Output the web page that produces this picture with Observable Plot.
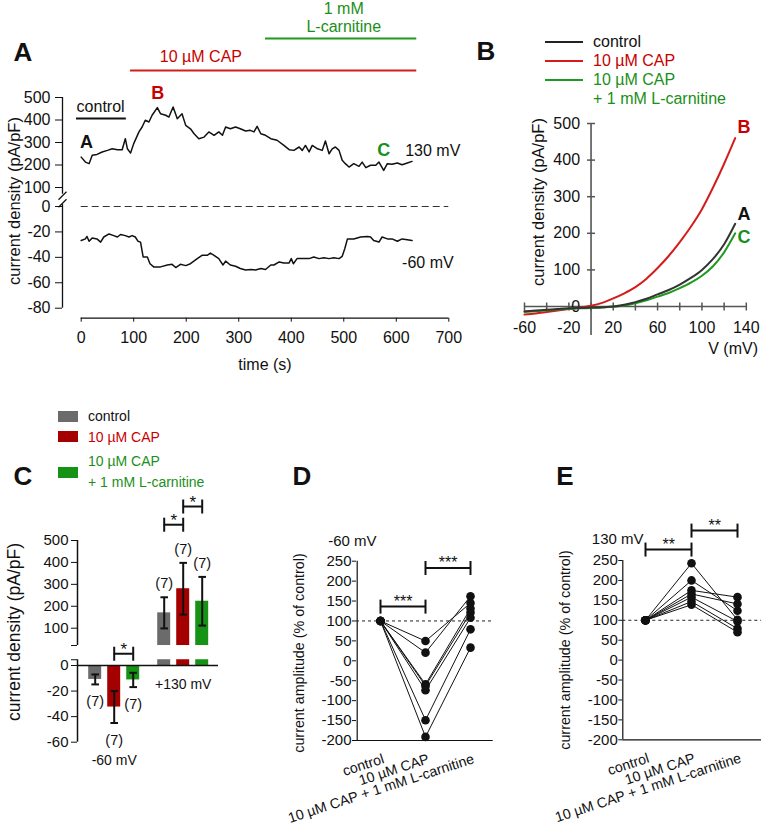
<!DOCTYPE html>
<html>
<head>
<meta charset="utf-8">
<script src="https://cdn.jsdelivr.net/npm/d3@7"></script>
<script src="https://cdn.jsdelivr.net/npm/@observablehq/plot@0.6"></script>
<style>
  html, body { margin: 0; padding: 0; background: #fff; }
  #fig { position: relative; width: 761px; height: 831px; overflow: hidden; background: #fff;
         font-family: "Liberation Sans", Arial, Helvetica, sans-serif; color: #111; }
  #fig svg { position: absolute; left: 0; top: 0; }
  .lbl { position: absolute; white-space: nowrap; line-height: 1; }
  .sw { position: absolute; }
</style>
</head>
<body>
<div id="fig"></div>
<script>
// ---------------- DATA ----------------
// Panel A: time course of current density at +130 mV and -60 mV
const timeA130 = [0,8,15,21,30,40,50,59,69,78,84,88,94,100,110,116,122,129,135,145,151,161,167,175,183,192,199,208,215,224,234,243,253,262,269,275,284,294,303,313,322,329,335,342,351,361,373,386,396,405,415,421,427,434,440,450,459,465,472,478,484,491,497,503,510,519,529,535,542,551,561,567,576,583,592,602,611,621,630];
const currA130 = [235,213,206,243,247,258,265,272,268,268,317,272,253,295,347,369,399,391,421,455,428,421,413,458,406,428,376,361,339,317,324,347,332,347,332,369,361,369,361,351,354,347,372,339,332,317,310,287,268,265,280,265,287,258,287,272,265,307,250,272,280,265,221,206,191,206,194,213,188,199,199,213,176,206,203,209,201,209,216];
const timeA60 = [0,8,11,15,21,30,37,43,53,62,69,75,84,91,97,103,108,113,118,126,131,138,151,164,173,180,189,199,208,221,230,240,246,253,262,270,275,284,294,303,313,323,332,342,351,361,367,377,386,396,400,404,411,424,434,443,453,462,472,481,491,497,502,507,513,519,532,545,551,557,567,573,583,592,602,611,621,630];
const currA60 = [-26.8,-25.5,-23.6,-27.3,-24.7,-25.5,-28,-24,-21.6,-22.9,-24,-22,-22.9,-24,-22.9,-24,-27.3,-28,-39.7,-39.7,-45,-47.5,-47.5,-46,-45.5,-48,-45.5,-46.5,-45,-41,-38.4,-38.4,-36.6,-38.4,-41,-46,-43,-46,-47,-48.8,-50,-49.6,-50,-48.8,-49.6,-46,-46,-43.6,-44.4,-44.4,-41,-45,-41,-41,-41,-39.7,-41,-40.3,-41,-40.3,-41,-39.2,-33,-25.5,-25.5,-25.5,-24,-23.6,-24,-26.8,-28,-24,-25.5,-25.5,-27.3,-25.5,-26.2,-26.8];
const xTicksA = [0,100,200,300,400,500,600,700];
const yTicksAUpper = [100,200,300,400,500];
const yTicksALower = [-80,-60,-40,-20,0];
const periodsA = [
  {start: -9, end: 86, level: 407, label: "control", labelT: 37, labelV: 460, kind: "ctrl"},
  {start: 94, end: 639, level: 620, label: "10 µM CAP", labelT: 228, labelV: 682, kind: "red"},
  {start: 351, end: 639, level: 762, label: "1 mM", labelT: 500, labelV: 896, kind: "green"}
];
const extraLabelA = [{label: "L-carnitine", t: 500, v: 815}];
const pointLabelsA = [
  {label: "A", t: 10, v: 300, kind: "ctrl"},
  {label: "B", t: 146, v: 518, kind: "red"},
  {label: "C", t: 576, v: 264, kind: "green"}
];

// Panel B: I-V relations
const voltB = [-60,-50,-40,-30,-20,-10,0,10,20,30,40,50,60,70,80,90,100,110,120,130];
const ctrlB = [-13,-11,-9,-7,-5,-4,-3,-2,0,5,12,21,33,45,60,78,100,130,170,226];
const capB  = [-22,-19,-15,-11,-7,-3,2,10,22,36,53,76,105,138,176,218,266,325,390,460];
const lcB   = [-15,-13,-10,-8,-6,-5,-4,-3,-1,3,9,17,27,37,50,65,84,110,148,200];
const yTicksB = [0,100,200,300,400,500];
const xTicksB = [-60,-40,-20,0,20,40,60,80,100,120,140];
const xLabelsB = [-60,-20,20,60,100,140];
const endLabelsB = [{label: "B", v: 132, i: 489, kind: "red"}, {label: "A", v: 132, i: 251, kind: "ctrl"}, {label: "C", v: 132, i: 189, kind: "green"}];

// Panel C: mean current density ± SEM
const conds = ["control", "10 µM CAP", "10 µM CAP + 1 mM L-carnitine"];
const groupsC = ["-60 mV", "+130 mV"];
const meanC60 = [-10.9, -32.5, -11.3];
const semC60 = [3.9, 12.5, 5.6];
const meanC130 = [170, 280, 223];
const semC130 = [71, 118, 111];
const nC = [7, 7, 7];
const yTicksCLower = [-60,-40,-20,0];
const yTicksCUpper = [100,200,300,400,500];
const breakLoC = 4.5, breakHiC = 21;
const bracketsCLower = [{g: 0, a: 1, b: 2, y: 9.2, label: "*"}];
const bracketsCUpper = [{g: 1, a: 0, b: 1, y: 572, label: "*"}, {g: 1, a: 1, b: 2, y: 655, label: "*"}];

// Panels D & E: normalized current amplitude (% of control), 7 cells
const ctrlDE = [100,100,100,100,100,100,100];
const capD = [49.6, 20.5, -59, -63, -74, -149, -191];
const lcD  = [145, 162, 131, 121, 108, 79, 33];
const capE = [243, 200, 175, 166, 158, 147, 139];
const lcE  = [101, 124, 158, 141, 97, 79, 70];
const yTicksDE = [-200,-150,-100,-50,0,50,100,150,200,250];
const bracketsD = [{a: 0, b: 1, y: 136, label: "***"}, {a: 1, b: 2, y: 233, label: "***"}];
const bracketsE = [{a: 0, b: 1, y: 277.5, label: "**"}, {a: 1, b: 2, y: 325, label: "**"}];

// ---------------- STYLE ----------------
const fig = document.getElementById("fig");
const W = 761, H = 831;
const FONT = '"Liberation Sans", Arial, Helvetica, sans-serif';
const INK = "#111111";
const COL = {ctrl: "#111111", red: "#c80000", green: "#1a8f1a"};
const LINE = {ctrl: "#222222", red: "#d41c1c", green: "#1f9a1f"};
const BAR = ["#6b6b6b", "#a50000", "#169216"];
const style = (size) => ({background: "transparent", overflow: "visible", fontFamily: FONT, fontSize: size + "px", color: INK});

const hline = {draw(ctx, s) { const r = Math.sqrt(s / Math.PI); ctx.moveTo(-r, 0); ctx.lineTo(r, 0); }};
const vline = {draw(ctx, s) { const r = Math.sqrt(s / Math.PI); ctx.moveTo(0, -r); ctx.lineTo(0, r); }};
const slash = {draw(ctx, s) { const r = Math.sqrt(s / Math.PI); ctx.moveTo(-r * 0.8, r * 0.8); ctx.lineTo(r * 0.8, -r * 0.8); }};

function mount(svg) { fig.appendChild(svg); }
function label(text, x, y, o = {}) {
  const el = document.createElement("div");
  el.className = "lbl";
  el.textContent = text;
  el.style.left = x + "px";
  el.style.top = y + "px";
  el.style.fontSize = (o.size || 16) + "px";
  if (o.color) el.style.color = o.color;
  if (o.bold) el.style.fontWeight = "bold";
  const ax = o.anchor === "start" ? "0" : o.anchor === "end" ? "-100%" : "-50%";
  el.style.transform = `translate(${ax}, -50%)` + (o.rotate ? ` rotate(${o.rotate}deg)` : "");
  fig.appendChild(el);
}
function swatch(x, y, w, h, color) {
  const el = document.createElement("div");
  el.className = "sw";
  Object.assign(el.style, {left: x + "px", top: y + "px", width: w + "px", height: h + "px", background: color});
  fig.appendChild(el);
}

// ---------------- PANEL A (broken y axis: two stacked sections) ----------------
const A130 = timeA130.map((t, i) => ({t, v: currA130[i]}));
const A60 = timeA60.map((t, i) => ({t, v: currA60[i]}));
const xA = {domain: [0, 700], range: [80.7, 448.3], label: null};
// upper section, +130 mV
mount(Plot.plot({
  width: W, height: H, marginTop: 0, marginRight: W - 448.3, marginBottom: H - 190, marginLeft: 62,
  style: style(16),
  x: {...xA, axis: null},
  y: {domain: [100, 500], range: [187, 97], label: null},
  marks: [
    Plot.axisY({ticks: yTicksAUpper, tickSize: 7, tickPadding: 5, tickFormat: String, label: null}),
    Plot.ruleX([[70, 500]], {x: 0, dx: -18.7, y1: d => d[0], y2: d => d[1], stroke: INK, strokeWidth: 1.3}),
    Plot.dot([63], {x: 0, dx: -18.7, y: d => d, symbol: slash, r: 5, stroke: INK, fill: "none", strokeWidth: 1.3}),
    Plot.line(A130, {x: "t", y: "v", stroke: INK, strokeWidth: 1.5}),
    ...periodsA.map(p => Plot.ruleY([p], {x1: "start", x2: "end", y: "level", stroke: p.kind === "ctrl" ? INK : LINE[p.kind], strokeWidth: 2})),
    ...periodsA.map(p => Plot.text([p], {x: "labelT", y: "labelV", text: "label", fill: COL[p.kind], fontSize: 16})),
    Plot.text(extraLabelA, {x: "t", y: "v", text: "label", fill: COL.green, fontSize: 16}),
    ...pointLabelsA.map(p => Plot.text([p], {x: "t", y: "v", text: "label", fill: COL[p.kind], fontSize: 18, fontWeight: "bold"})),
    Plot.text(["130 mV"], {x: 617, y: 264, text: d => d, textAnchor: "start", fill: INK, fontSize: 16})
  ]
}));
// lower section, -60 mV, with time axis
mount(Plot.plot({
  width: W, height: H, marginTop: 0, marginRight: W - 448.3, marginBottom: H - 317.7, marginLeft: 62,
  style: style(16),
  x: xA,
  y: {domain: [-80, 0], range: [307.7, 206], label: null},
  marks: [
    Plot.axisY({ticks: yTicksALower, tickSize: 7, tickPadding: 5, tickFormat: String, label: null}),
    Plot.axisX({ticks: xTicksA, tickSize: 4, tickPadding: 9, tickFormat: String, label: null}),
    Plot.ruleX([[-80, 1.5]], {x: 0, dx: -18.7, y1: d => d[0], y2: d => d[1], stroke: INK, strokeWidth: 1.3}),
    Plot.dot([2.5], {x: 0, dx: -18.7, y: d => d, symbol: slash, r: 5, stroke: INK, fill: "none", strokeWidth: 1.3}),
    Plot.ruleY([-80], {x1: 0, x2: 700, dy: 10, stroke: INK, strokeWidth: 1.3}),
    Plot.ruleY([0], {x1: 0, x2: 700, stroke: "#333", strokeDasharray: "7,4", strokeWidth: 1.2}),
    Plot.line(A60, {x: "t", y: "v", stroke: INK, strokeWidth: 1.5}),
    Plot.text(["-60 mV"], {x: 611, y: -44, text: d => d, textAnchor: "start", fill: INK, fontSize: 16})
  ]
}));

// ---------------- PANEL B ----------------
const series = (v, arr) => v.map((x, i) => ({v: x, i: arr[i]}));
mount(Plot.plot({
  width: W, height: H, marginTop: 123, marginBottom: H - 335, marginLeft: 524, marginRight: W - 745.8,
  style: style(16),
  x: {domain: [-60, 140], range: [524, 745.8], axis: null},
  y: {domain: [0, 500], range: [306, 123], axis: null},
  marks: [
    Plot.ruleX([0], {stroke: "#555", strokeWidth: 1.6}),
    Plot.ruleY([0], {stroke: "#555", strokeWidth: 1.6}),
    Plot.dot(yTicksB, {x: 0, y: d => d, symbol: hline, r: 4, stroke: "#555", fill: "none", strokeWidth: 1.5}),
    Plot.dot(xTicksB, {x: d => d, y: 0, symbol: vline, r: 4, stroke: "#555", fill: "none", strokeWidth: 1.5}),
    Plot.text(yTicksB, {x: 0, y: d => d, dx: -11, textAnchor: "end", text: d => String(d), fill: INK}),
    Plot.text(xLabelsB, {x: d => d, y: 0, dy: 21, text: d => String(d), fill: INK}),
    Plot.line(series(voltB, capB), {x: "v", y: "i", stroke: LINE.red, strokeWidth: 2, curve: "monotone-x"}),
    Plot.line(series(voltB, lcB), {x: "v", y: "i", stroke: LINE.green, strokeWidth: 2, curve: "monotone-x"}),
    Plot.line(series(voltB, ctrlB), {x: "v", y: "i", stroke: "#333", strokeWidth: 2, curve: "monotone-x"}),
    ...endLabelsB.map(p => Plot.text([p], {x: "v", y: "i", text: "label", textAnchor: "start", fill: COL[p.kind], fontSize: 18, fontWeight: "bold"}))
  ]
}));

// ---------------- PANEL C (broken y axis: two stacked sections) ----------------
const grpStep = 0.2754, halfBar = 0.094;
const rowsC = groupsC.flatMap((g, gi) => conds.map((c, si) => ({
  g, gi, c, si,
  mean: gi === 0 ? meanC60[si] : meanC130[si],
  sem: gi === 0 ? semC60[si] : semC130[si],
  n: nC[si]
})));
const xC = d => d.gi + (d.si - 1) * grpStep;
const bx = (g, s) => g + (s - 1) * grpStep;
const rowsC60 = rowsC.filter(d => d.gi === 0);
const rowsC130 = rowsC.filter(d => d.gi === 1);
const xCscale = {domain: [0, 1], range: [113.7, 182.7], axis: null, label: null};
const caps = rows => rows.flatMap(d => [{x: xC(d), y: d.mean - d.sem}, {x: xC(d), y: d.mean + d.sem}]);
const bracketMarks = (brs) => [
  Plot.ruleY(brs, {x1: b => bx(b.g, b.a), x2: b => bx(b.g, b.b), y: "y", stroke: INK, strokeWidth: 2}),
  Plot.dot(brs.flatMap(b => [{x: bx(b.g, b.a), y: b.y}, {x: bx(b.g, b.b), y: b.y}]), {x: "x", y: "y", symbol: vline, r: 7, stroke: INK, fill: "none", strokeWidth: 2}),
  Plot.text(brs, {x: b => (bx(b.g, b.a) + bx(b.g, b.b)) / 2, y: "y", dy: -4, text: "label", fill: INK, fontSize: 17})
];
// lower section
mount(Plot.plot({
  width: W, height: H, marginTop: 0, marginBottom: 0, marginLeft: 77, marginRight: W - 218,
  style: style(15),
  x: xCscale,
  y: {domain: [-60, 0], range: [741.7, 665], label: null},
  marks: [
    Plot.axisY({ticks: yTicksCLower, tickSize: 6, tickPadding: 3, tickFormat: String, label: null}),
    Plot.axisY({ticks: [breakLoC], tickSize: 6, tickFormat: () => "", label: null}),
    Plot.ruleX([[-60, breakLoC]], {x: 0, dx: -36.7, y1: d => d[0], y2: d => d[1], stroke: INK, strokeWidth: 1.5}),
    Plot.rect(rowsC60, {x1: d => xC(d) - halfBar, x2: d => xC(d) + halfBar, y1: 0, y2: "mean", fill: d => BAR[d.si]}),
    Plot.rect(rowsC130, {x1: d => xC(d) - halfBar, x2: d => xC(d) + halfBar, y1: 0, y2: breakLoC, fill: d => BAR[d.si]}),
    Plot.ruleY([0], {stroke: INK, strokeWidth: 1.5}),
    Plot.ruleX(rowsC60, {x: xC, y1: d => d.mean - d.sem, y2: d => d.mean + d.sem, stroke: INK, strokeWidth: 2}),
    Plot.dot(caps(rowsC60), {x: "x", y: "y", symbol: hline, r: 3.8, stroke: INK, fill: "none", strokeWidth: 2}),
    Plot.text(rowsC60, {x: xC, y: d => d.mean - d.sem, dy: 17, text: d => `(${d.n})`, fill: INK, fontSize: 14.5}),
    Plot.text([groupsC[1]], {x: 1, y: 0, dy: 19, text: d => d, fill: INK, fontSize: 14}),
    Plot.text([groupsC[0]], {x: 0, y: -60, dy: 18, text: d => d, fill: INK, fontSize: 14}),
    ...bracketMarks(bracketsCLower)
  ]
}));
// upper section
mount(Plot.plot({
  width: W, height: H, marginTop: 0, marginBottom: 0, marginLeft: 77, marginRight: W - 218,
  style: style(15),
  x: xCscale,
  y: {domain: [100, 500], range: [627.7, 540], label: null},
  marks: [
    Plot.axisY({ticks: yTicksCUpper, tickSize: 6, tickPadding: 3, tickFormat: String, label: null}),
    Plot.axisY({ticks: [breakHiC], tickSize: 6, tickFormat: () => "", label: null}),
    Plot.ruleX([[breakHiC, 500]], {x: 0, dx: -36.7, y1: d => d[0], y2: d => d[1], stroke: INK, strokeWidth: 1.5}),
    Plot.rect(rowsC130, {x1: d => xC(d) - halfBar, x2: d => xC(d) + halfBar, y1: breakHiC, y2: "mean", fill: d => BAR[d.si]}),
    Plot.ruleX(rowsC130, {x: xC, y1: d => d.mean - d.sem, y2: d => d.mean + d.sem, stroke: INK, strokeWidth: 2}),
    Plot.dot(caps(rowsC130), {x: "x", y: "y", symbol: hline, r: 3.8, stroke: INK, fill: "none", strokeWidth: 2}),
    Plot.text(rowsC130, {x: xC, y: d => d.mean + d.sem, dy: -14, text: d => `(${d.n})`, fill: INK, fontSize: 14.5}),
    ...bracketMarks(bracketsCUpper)
  ]
}));

// ---------------- PANELS D & E ----------------
function pairedPanel({cap, lc, brackets, left, right, top, bottom, xRange, axisDx, tag, tagY, tagDx}) {
  const rows = [];
  ctrlDE.forEach((v, k) => {
    rows.push({cell: k, cond: conds[0], value: v});
    rows.push({cell: k, cond: conds[1], value: cap[k]});
    rows.push({cell: k, cond: conds[2], value: lc[k]});
  });
  const ends = brackets.flatMap(b => [{c: conds[b.a], y: b.y}, {c: conds[b.b], y: b.y}]);
  const halfStep = (xRange[1] - xRange[0]) / (conds.length - 1) / 2;
  return Plot.plot({
    width: W, height: H, marginTop: top, marginBottom: H - bottom, marginLeft: left, marginRight: W - right,
    style: style(15),
    x: {type: "point", domain: conds, range: xRange, padding: 0, axis: null, label: null},
    y: {domain: [-200, 250], label: null},
    marks: [
      Plot.axisY({ticks: yTicksDE, tickSize: 4, tickPadding: 1, tickFormat: String, label: null}),
      Plot.ruleX([conds[0]], {dx: axisDx, stroke: INK, strokeWidth: 1.2}),
      Plot.ruleY([-200], {stroke: INK, strokeWidth: 1.2}),
      Plot.ruleY([100], {stroke: "#222", strokeDasharray: "3,3", strokeWidth: 1}),
      Plot.line(rows, {x: "cond", y: "value", z: "cell", stroke: INK, strokeWidth: 1}),
      Plot.dot(rows, {x: "cond", y: "value", r: 4.3, fill: INK, stroke: "none"}),
      Plot.ruleY(brackets, {x1: b => conds[b.a], x2: b => conds[b.b], y: "y", stroke: INK, strokeWidth: 2}),
      Plot.dot(ends, {x: "c", y: "y", symbol: vline, r: 7, stroke: INK, fill: "none", strokeWidth: 2}),
      Plot.text(brackets, {x: b => conds[b.a], dx: halfStep, y: "y", dy: -5, text: "label", fill: INK, fontSize: 16}),
      Plot.text(conds, {x: d => d, y: -200, dy: 18, dx: 3, rotate: -18, textAnchor: "end", text: d => d, fill: INK, fontSize: 14.2}),
      Plot.text([tag], {x: () => conds[0], y: tagY, dx: tagDx, textAnchor: "end", text: d => d, fill: INK, fontSize: 15})
    ]
  });
}
mount(pairedPanel({cap: capD, lc: lcD, brackets: bracketsD, left: 356, right: 492.7, top: 560.7, bottom: 740,
  xRange: [379.3, 470], axisDx: -23.3, tag: "-60 mV", tagY: 299, tagDx: -4}));
mount(pairedPanel({cap: capE, lc: lcE, brackets: bracketsE, left: 622.3, right: 761, top: 560, bottom: 739.3,
  xRange: [645, 737.7], axisDx: -22.7, tag: "130 mV", tagY: 302.6, tagDx: -2}));

// ---------------- HTML TEXT: panel letters, axis titles, legends ----------------
label("A", 23, 52, {size: 26, bold: true});
label("B", 486, 51, {size: 26, bold: true});
label("C", 23, 476, {size: 26, bold: true});
label("D", 302, 476, {size: 26, bold: true});
label("E", 565, 476, {size: 26, bold: true});

label("current density (pA/pF)", 14, 201, {size: 16.5, rotate: -90});
label("time (s)", 265, 365, {size: 16});
label("current density (pA/pF)", 538, 202, {size: 16.5, rotate: -90});
label("V (mV)", 758, 349, {size: 16, anchor: "end"});
label("current density (pA/pF)", 15, 632, {size: 17.5, rotate: -90});
label("current amplitude (% of control)", 299, 653, {size: 14.3, rotate: -90});
label("current amplitude (% of control)", 565, 650, {size: 14.3, rotate: -90});

// legend B
const legendB = [{t: "control", c: COL.ctrl, l: LINE.ctrl, y: 42}, {t: "10 µM CAP", c: COL.red, l: LINE.red, y: 61}, {t: "10 µM CAP", c: COL.green, l: LINE.green, y: 80}];
legendB.forEach(d => { swatch(545, d.y - 1, 38, 2, d.l); label(d.t, 593, d.y, {size: 16, color: d.c, anchor: "start"}); });
label("+ 1 mM L-carnitine", 593, 99, {size: 16, color: COL.green, anchor: "start"});

// legend C
const legendC = [{t: "control", c: INK, s: BAR[0], y: 416, sy: 416}, {t: "10 µM CAP", c: COL.red, s: BAR[1], y: 437, sy: 436}, {t: "10 µM CAP", c: COL.green, s: BAR[2], y: 461, sy: 472}];
legendC.forEach(d => { swatch(58, d.sy - 5.5, 20, 11, d.s); label(d.t, 88, d.y, {size: 14, color: d.c, anchor: "start"}); });
label("+ 1 mM L-carnitine", 88, 482, {size: 14, color: COL.green, anchor: "start"});
</script>
</body>
</html>
